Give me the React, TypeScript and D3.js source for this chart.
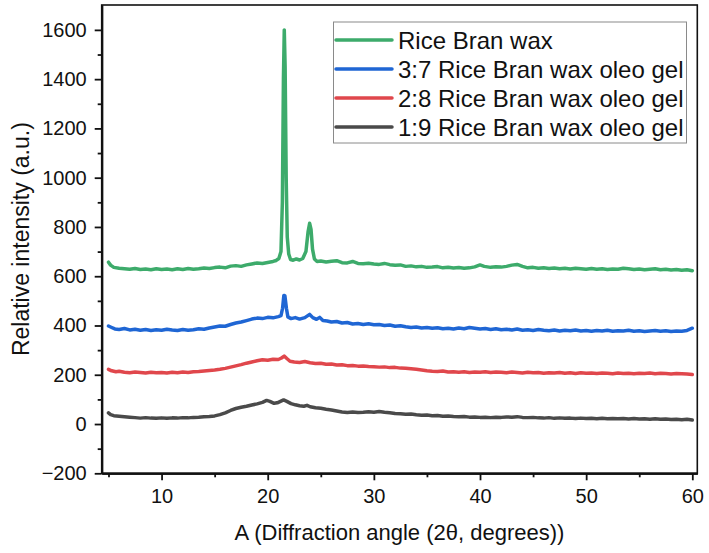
import * as React from 'react';
import * as d3 from 'd3';

// XRD patterns: [2θ (deg), intensity (a.u.)]
const riceBranWax: [number, number][] = [
  [5.0, 657], [5.2, 645], [5.5, 636], [6.0, 632], [6.5, 630], [7.0, 628], [7.5, 631], [8.0, 627],
  [8.5, 629], [9.0, 626], [9.5, 630], [10.0, 627], [10.5, 629], [11.0, 626], [11.5, 630], [12.0, 627],
  [12.5, 631], [13.0, 628], [13.5, 630], [14.0, 633], [14.5, 631], [15.0, 635], [15.5, 637], [16.0, 634],
  [16.5, 641], [17.0, 643], [17.5, 640], [18.0, 646], [18.5, 650], [19.0, 654], [19.5, 652], [20.0, 656],
  [20.5, 660], [20.8, 664], [21.05, 672], [21.25, 700], [21.38, 900], [21.48, 1400], [21.56, 1600],
  [21.64, 1450], [21.74, 1000], [21.84, 760], [21.98, 690], [22.15, 668], [22.4, 665], [22.7, 670],
  [23.0, 666], [23.3, 672], [23.6, 700], [23.8, 780], [23.95, 815], [24.08, 790], [24.22, 710],
  [24.4, 670], [24.65, 660], [25.0, 662], [25.5, 658], [26.0, 661], [26.5, 663], [27.0, 655],
  [27.5, 654], [28.0, 660], [28.5, 652], [29.0, 651], [29.5, 653], [30.0, 650], [30.5, 648],
  [31.0, 652], [31.5, 647], [32.0, 645], [32.5, 646], [33.0, 640], [33.5, 642], [34.0, 638],
  [34.5, 640], [35.0, 636], [35.5, 637], [36.0, 639], [36.5, 634], [37.0, 636], [37.5, 633],
  [38.0, 635], [38.5, 632], [39.0, 634], [39.5, 638], [40.0, 646], [40.4, 640], [41.0, 636],
  [41.5, 638], [42.0, 637], [42.5, 640], [43.0, 645], [43.5, 648], [44.0, 640], [44.5, 634],
  [45.0, 636], [45.5, 632], [46.0, 634], [46.5, 631], [47.0, 633], [47.5, 630], [48.0, 632],
  [48.5, 629], [49.0, 632], [49.5, 630], [50.0, 628], [50.5, 631], [51.0, 628], [51.5, 630],
  [52.0, 627], [52.5, 629], [53.0, 628], [53.5, 632], [54.0, 630], [54.5, 627], [55.0, 629],
  [55.5, 626], [56.0, 628], [56.5, 630], [57.0, 626], [57.5, 628], [58.0, 625], [58.5, 627],
  [59.0, 624], [59.5, 626], [60.0, 622],
];

const gel37: [number, number][] = [
  [5.0, 398], [5.3, 392], [5.6, 386], [6.0, 384], [6.5, 388], [7.0, 382], [7.5, 385], [8.0, 381],
  [8.5, 384], [9.0, 380], [9.5, 383], [10.0, 381], [10.5, 385], [11.0, 382], [11.5, 380], [12.0, 384],
  [12.5, 381], [13.0, 383], [13.5, 387], [14.0, 385], [14.5, 390], [15.0, 394], [15.5, 398],
  [16.0, 397], [16.5, 404], [17.0, 410], [17.5, 414], [18.0, 420], [18.5, 426], [19.0, 430],
  [19.5, 428], [20.0, 433], [20.5, 431], [21.0, 436], [21.25, 440], [21.4, 470], [21.52, 522],
  [21.62, 520], [21.76, 470], [21.9, 435], [22.2, 428], [22.6, 432], [23.0, 426], [23.5, 432],
  [23.95, 445], [24.25, 432], [24.6, 425], [24.9, 433], [25.2, 420], [25.6, 418], [26.0, 414],
  [26.5, 416], [27.0, 410], [27.5, 412], [28.0, 406], [28.5, 408], [29.0, 404], [29.5, 407],
  [30.0, 403], [30.5, 404], [31.0, 400], [31.5, 402], [32.0, 397], [32.5, 399], [33.0, 395],
  [33.5, 392], [34.0, 394], [34.5, 390], [35.0, 392], [35.5, 389], [36.0, 391], [36.5, 387],
  [37.0, 389], [37.5, 386], [38.0, 390], [38.5, 387], [39.0, 392], [39.5, 389], [40.0, 386],
  [40.5, 388], [41.0, 384], [41.5, 387], [42.0, 383], [42.5, 385], [43.0, 382], [43.5, 386],
  [44.0, 381], [44.5, 383], [45.0, 380], [45.5, 384], [46.0, 381], [46.5, 379], [47.0, 382],
  [47.5, 378], [48.0, 381], [48.5, 379], [49.0, 382], [49.5, 378], [50.0, 380], [50.5, 377],
  [51.0, 380], [51.5, 378], [52.0, 381], [52.5, 377], [53.0, 379], [53.5, 378], [54.0, 381],
  [54.5, 377], [55.0, 379], [55.5, 376], [56.0, 378], [56.5, 380], [57.0, 377], [57.5, 379],
  [58.0, 376], [58.5, 378], [59.0, 377], [59.5, 380], [60.0, 389],
];

const gel28: [number, number][] = [
  [5.0, 222], [5.3, 216], [5.7, 212], [6.0, 214], [6.5, 210], [7.0, 208], [7.5, 211], [8.0, 209],
  [8.5, 207], [9.0, 210], [9.5, 208], [10.0, 209], [10.5, 207], [11.0, 210], [11.5, 208], [12.0, 211],
  [12.5, 209], [13.0, 212], [13.5, 213], [14.0, 215], [14.5, 217], [15.0, 219], [15.5, 222],
  [16.0, 226], [16.5, 231], [17.0, 236], [17.5, 241], [18.0, 247], [18.5, 252], [19.0, 257],
  [19.5, 261], [20.0, 259], [20.5, 263], [21.0, 262], [21.3, 268], [21.55, 276], [21.8, 266],
  [22.1, 255], [22.5, 252], [23.0, 250], [23.5, 254], [24.0, 249], [24.5, 246], [25.0, 247],
  [25.5, 243], [26.0, 244], [26.5, 240], [27.0, 241], [27.5, 237], [28.0, 238], [28.5, 235],
  [29.0, 236], [29.5, 234], [30.0, 233], [30.5, 231], [31.0, 232], [31.5, 229], [32.0, 230],
  [32.5, 227], [33.0, 226], [33.5, 224], [34.0, 222], [34.5, 219], [35.0, 216], [35.5, 214],
  [36.0, 213], [36.5, 215], [37.0, 211], [37.5, 212], [38.0, 210], [38.5, 212], [39.0, 209],
  [39.5, 211], [40.0, 210], [40.5, 212], [41.0, 209], [41.5, 211], [42.0, 210], [42.5, 208],
  [43.0, 211], [43.5, 209], [44.0, 207], [44.5, 210], [45.0, 208], [45.5, 209], [46.0, 206],
  [46.5, 208], [47.0, 207], [47.5, 209], [48.0, 206], [48.5, 208], [49.0, 205], [49.5, 208],
  [50.0, 206], [50.5, 207], [51.0, 205], [51.5, 207], [52.0, 206], [52.5, 204], [53.0, 207],
  [53.5, 205], [54.0, 206], [54.5, 204], [55.0, 206], [55.5, 205], [56.0, 207], [56.5, 204],
  [57.0, 206], [57.5, 205], [58.0, 203], [58.5, 205], [59.0, 204], [59.5, 203], [60.0, 201],
];

const gel19: [number, number][] = [
  [5.0, 45], [5.2, 38], [5.5, 34], [6.0, 32], [6.5, 30], [7.0, 28], [7.5, 26], [8.0, 24],
  [8.5, 26], [9.0, 24], [9.5, 23], [10.0, 25], [10.5, 23], [11.0, 25], [11.5, 24], [12.0, 26],
  [12.5, 25], [13.0, 27], [13.5, 28], [14.0, 30], [14.5, 31], [15.0, 33], [15.5, 38], [16.0, 45],
  [16.5, 55], [17.0, 63], [17.5, 68], [18.0, 72], [18.5, 77], [19.0, 82], [19.5, 88], [19.9, 96],
  [20.2, 92], [20.6, 84], [20.9, 86], [21.2, 92], [21.5, 98], [21.8, 92], [22.2, 83], [22.6, 78],
  [23.0, 74], [23.4, 72], [23.7, 76], [24.0, 70], [24.5, 66], [25.0, 64], [25.5, 60], [26.0, 57],
  [26.5, 53], [27.0, 49], [27.5, 47], [28.0, 49], [28.5, 47], [29.0, 48], [29.5, 50], [30.0, 48],
  [30.5, 51], [31.0, 48], [31.5, 46], [32.0, 43], [32.5, 42], [33.0, 40], [33.5, 41], [34.0, 38],
  [34.5, 36], [35.0, 37], [35.5, 34], [36.0, 35], [36.5, 32], [37.0, 33], [37.5, 31], [38.0, 30],
  [38.5, 31], [39.0, 28], [39.5, 29], [40.0, 27], [40.5, 28], [41.0, 26], [41.5, 28], [42.0, 27],
  [42.5, 29], [43.0, 28], [43.5, 30], [44.0, 27], [44.5, 26], [45.0, 27], [45.5, 25], [46.0, 24],
  [46.5, 26], [47.0, 23], [47.5, 25], [48.0, 23], [48.5, 24], [49.0, 22], [49.5, 24], [50.0, 22],
  [50.5, 23], [51.0, 21], [51.5, 23], [52.0, 21], [52.5, 22], [53.0, 21], [53.5, 22], [54.0, 20],
  [54.5, 22], [55.0, 20], [55.5, 21], [56.0, 19], [56.5, 21], [57.0, 19], [57.5, 20], [58.0, 18],
  [58.5, 19], [59.0, 17], [59.5, 19], [60.0, 16],
];

const seriesNames = [
  'Rice Bran wax',
  '3:7 Rice Bran wax oleo gel',
  '2:8 Rice Bran wax oleo gel',
  '1:9 Rice Bran wax oleo gel',
];
const seriesData = [riceBranWax, gel37, gel28, gel19];
const seriesColors = ['#3dab6b', '#1f66d4', '#e0474c', '#4a4a4a'];

const xMajorTicks = [10, 20, 30, 40, 50, 60];
const xMinorTicks = [5, 15, 25, 35, 45, 55];
const yMajorTicks = [-200, 0, 200, 400, 600, 800, 1000, 1200, 1400, 1600];
const yMinorTicks = [-100, 100, 300, 500, 700, 900, 1100, 1300, 1500];

const FONT = "'Liberation Sans', Arial, Helvetica, sans-serif";

export default function App() {
  const svgRef = React.useRef<SVGSVGElement | null>(null);
  const width = 709;
  const height = 553;
  const plot = { left: 101.7, right: 697.3, top: 5, bottom: 473.3 };

  React.useEffect(() => {
    if (!svgRef.current) return;
    const svg = d3.select(svgRef.current);
    svg.selectAll('*').remove();

    const x = d3.scaleLinear().domain([4.36, 60.47]).range([plot.left, plot.right]);
    const y = d3.scaleLinear().domain([-200, 1701]).range([plot.bottom, plot.top]);

    // frame
    svg
      .append('rect')
      .attr('x', plot.left)
      .attr('y', plot.top)
      .attr('width', plot.right - plot.left)
      .attr('height', plot.bottom - plot.top)
      .attr('fill', 'none')
      .attr('stroke', '#111')
      .attr('stroke-width', 1.6);

    // traces, bottom one first so the wax pattern sits on top
    const line = d3
      .line<[number, number]>()
      .x((d) => x(d[0]))
      .y((d) => y(d[1]));

    for (let idx = seriesData.length - 1; idx >= 0; idx--) {
      svg
        .append('path')
        .datum(seriesData[idx])
        .attr('d', line)
        .attr('fill', 'none')
        .attr('stroke', seriesColors[idx])
        .attr('stroke-width', 3.5)
        .attr('stroke-linejoin', 'round')
        .attr('stroke-linecap', 'round');
    }

    // x axis
    const xAxis = svg.append('g').attr('transform', `translate(0,${plot.bottom})`);
    xAxis.call(
      d3.axisBottom(x).tickValues(xMajorTicks).tickSize(7).tickSizeOuter(0).tickPadding(9)
    );
    xAxis
      .append('g')
      .call(d3.axisBottom(x).tickValues(xMinorTicks).tickSize(4).tickSizeOuter(0).tickFormat(() => ''));

    // y axis
    const yAxis = svg.append('g').attr('transform', `translate(${plot.left},0)`);
    yAxis.call(
      d3.axisLeft(y).tickValues(yMajorTicks).tickSize(7).tickSizeOuter(0).tickPadding(8)
        .tickFormat((d) => String(d).replace('-', '\u2212'))
    );
    yAxis
      .append('g')
      .call(d3.axisLeft(y).tickValues(yMinorTicks).tickSize(4).tickSizeOuter(0).tickFormat(() => ''));

    svg.selectAll('.domain').attr('stroke', '#111').attr('stroke-width', 2);
    svg.selectAll('.tick line').attr('stroke', '#111').attr('stroke-width', 1.8);
    svg
      .selectAll('.tick text')
      .attr('font-family', FONT)
      .attr('font-size', 20)
      .attr('fill', '#111');

    // axis titles
    svg
      .append('text')
      .attr('x', (plot.left + plot.right) / 2)
      .attr('y', 540)
      .attr('text-anchor', 'middle')
      .attr('font-family', FONT)
      .attr('font-size', 22)
      .attr('fill', '#111')
      .text('A (Diffraction angle (2θ, degrees))');

    svg
      .append('text')
      .attr('transform', `translate(29,${(plot.top + plot.bottom) / 2}) rotate(-90)`)
      .attr('text-anchor', 'middle')
      .attr('font-family', FONT)
      .attr('font-size', 23)
      .attr('fill', '#111')
      .text('Relative intensity (a.u.)');

    // legend
    const legend = svg.append('g');
    legend
      .append('rect')
      .attr('x', 333.5)
      .attr('y', 22)
      .attr('width', 353)
      .attr('height', 121)
      .attr('fill', '#fff')
      .attr('stroke', '#8a8a8a')
      .attr('stroke-width', 1);
    seriesNames.forEach((name, i) => {
      const cy = 40 + i * 29;
      legend
        .append('line')
        .attr('x1', 336)
        .attr('x2', 392)
        .attr('y1', cy)
        .attr('y2', cy)
        .attr('stroke', seriesColors[i])
        .attr('stroke-width', 3.5)
        .attr('stroke-linecap', 'round');
      legend
        .append('text')
        .attr('x', 398)
        .attr('y', cy + 8.5)
        .attr('font-family', FONT)
        .attr('font-size', 24)
        .attr('fill', '#111')
        .text(name);
    });
  }, []);

  return (
    <svg
      ref={svgRef}
      width={width}
      height={height}
      style={{ position: 'absolute', left: 0, top: 0, background: '#fff' }}
    />
  );
}
